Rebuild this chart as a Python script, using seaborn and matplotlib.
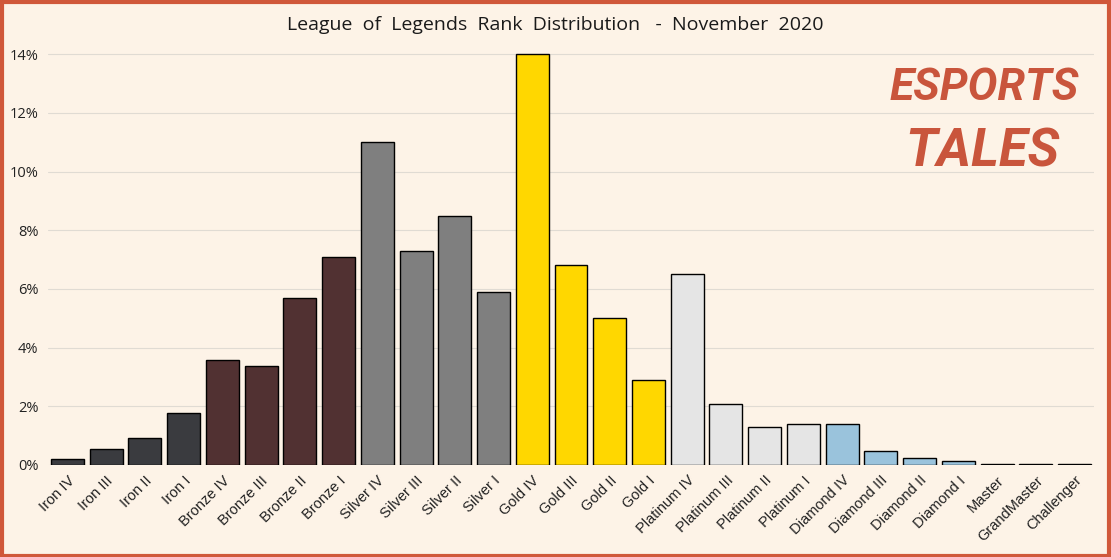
import matplotlib
matplotlib.use("Agg")
import matplotlib.pyplot as plt
import matplotlib.patches as mpatches
from matplotlib.ticker import PercentFormatter
import seaborn as sns
import pandas as pd

# --- Data ---
ranks = [
    "Iron IV", "Iron III", "Iron II", "Iron I",
    "Bronze IV", "Bronze III", "Bronze II", "Bronze I",
    "Silver IV", "Silver III", "Silver II", "Silver I",
    "Gold IV", "Gold III", "Gold II", "Gold I",
    "Platinum IV", "Platinum III", "Platinum II", "Platinum I",
    "Diamond IV", "Diamond III", "Diamond II", "Diamond I",
    "Master", "GrandMaster", "Challenger",
]
share = [
    0.20, 0.54, 0.91, 1.76,
    3.58, 3.38, 5.70, 7.10,
    11.00, 7.30, 8.50, 5.90,
    14.00, 6.80, 5.00, 2.90,
    6.50, 2.08, 1.29, 1.40,
    1.40, 0.47, 0.23, 0.14,
    0.03, 0.02, 0.02,
]
tiers = (["Iron"] * 4 + ["Bronze"] * 4 + ["Silver"] * 4 + ["Gold"] * 4
         + ["Platinum"] * 4 + ["Diamond"] * 4 + ["Apex"] * 3)
tier_colors = {
    "Iron": "#3a3b3f", "Bronze": "#513132", "Silver": "#7f7f7f",
    "Gold": "#ffd700", "Platinum": "#e5e5e5", "Diamond": "#9ac3dc",
    "Apex": "#9ac3dc",
}

df = pd.DataFrame({"rank": ranks, "share": share, "tier": tiers})

# --- Style ---
bg = "#fdf3e7"
sns.set_theme(style="white")
plt.rcParams["font.family"] = ["Liberation Sans", "DejaVu Sans"]

fig = plt.figure(figsize=(11.11, 5.57), dpi=100, facecolor=bg)
ax = fig.add_axes([48 / 1111, 1 - 465 / 557, (1094 - 48) / 1111, (465 - 41) / 557])
ax.set_facecolor(bg)

sns.barplot(data=df, x="rank", y="share", hue="tier", palette=tier_colors,
            dodge=False, legend=False, width=0.85, edgecolor="black",
            linewidth=1.0, saturation=1, ax=ax, zorder=3)

ax.set_ylim(0, 14.45)
ax.set_xlim(-0.5, len(ranks) - 0.5)
ax.set_yticks(range(0, 15, 2))
ax.yaxis.set_major_formatter(PercentFormatter(decimals=0))
ax.grid(axis="y", color="#e0dbd3", linewidth=0.8, zorder=0)
for s in ax.spines.values():
    s.set_visible(False)
ax.set_xlabel("")
ax.set_ylabel("")
ax.tick_params(axis="y", labelsize=10.5, pad=7, length=0, labelcolor="#222222")
ax.tick_params(axis="x", length=0, pad=6)
ax.set_xticks(range(len(ranks)))
ax.set_xticklabels(ranks, rotation=45, ha="right", rotation_mode="anchor",
                   fontsize=10.5, color="#222222")
for lbl in ax.get_yticklabels():
    lbl.set_fontfamily(["Open Sans", "DejaVu Sans"])

# --- Title ---
fig.text(0.5, 1 - 25 / 557, "League  of  Legends  Rank  Distribution   -  November  2020",
         ha="center", va="center", fontsize=14, color="#1a1a1a",
         family=["Open Sans", "DejaVu Sans"])

# --- Logo ---
logo_color = "#c9553c"
fig.text(984 / 1111, 1 - 88 / 557, "ESPORTS", ha="center", va="center",
         fontsize=32, fontweight="bold", style="italic", color=logo_color,
         family=["Roboto", "DejaVu Sans"])
fig.text(982 / 1111, 1 - 152 / 557, "TALES", ha="center", va="center",
         fontsize=38, fontweight="bold", style="italic", color=logo_color,
         family=["Roboto", "DejaVu Sans"])

# --- Border ---
fig.patches.append(mpatches.Rectangle((0.0015, 0.002), 0.997, 0.995,
                                      transform=fig.transFigure, fill=False,
                                      edgecolor="#d0583a", linewidth=3))

fig.savefig("out.png", dpi=100, facecolor=bg)
